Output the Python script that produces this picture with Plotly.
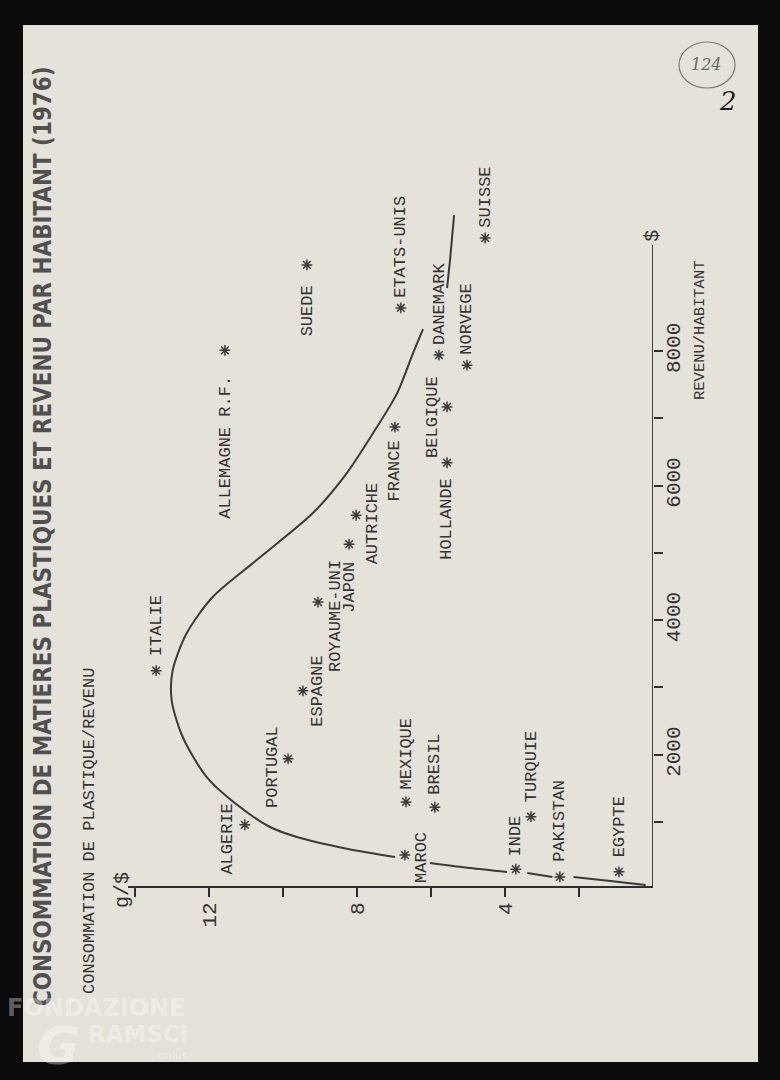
import plotly.graph_objects as go

# ---------------- data ----------------
countries = ["ITALIE", "ALGERIE", "PORTUGAL", "ESPAGNE", "ROYAUME-UNI", "JAPON",
             "AUTRICHE", "ALLEMAGNE R.F.", "SUEDE", "FRANCE", "BELGIQUE", "HOLLANDE",
             "ETATS-UNIS", "DANEMARK", "NORVEGE", "SUISSE", "MEXIQUE", "BRESIL",
             "MAROC", "INDE", "TURQUIE", "PAKISTAN", "EGYPTE"]
conso_g_per_dollar = [13.44, 11.04, 9.87, 9.47, 9.06, 8.22,
                      8.03, 11.58, 9.36, 6.98, 5.57, 5.57,
                      6.82, 5.79, 5.03, 4.54, 6.68, 5.90,
                      6.71, 3.71, 3.30, 2.52, 0.92]
revenu_par_hab = [3250, 960, 1940, 2950, 4270, 5130,
                  5560, 8010, 9280, 6870, 7170, 6340,
                  8640, 7940, 7790, 9680, 1300, 1220,
                  510, 300, 1080, 185, 260]

# hand-drawn trend curve (None = pen lifted around an asterisk)
curve_conso = [0.20, 1.15, 2.15, None,
               2.72, 3.40, None,
               3.95, 4.95, 6.03, None,
               6.98, 8.25, 9.63, 10.36, 11.17, 12.07, 12.72, 13.02, 12.99, 12.61,
               11.91, 10.72, 9.20, 8.28, 7.57, 6.92, 6.49, 6.22, None,
               5.57, 5.49, 5.38]
curve_revenu = [64, 123, 183, None,
                183, 243, None,
                258, 317, 391, None,
                480, 600, 778, 927, 1223, 1669, 2264, 2813, 3259, 3809,
                4344, 4894, 5592, 6187, 6781, 7375, 7970, 8327, None,
                8936, 9352, 10021]

x_tickvals = [14, 12, 10, 8, 6, 4, 2]
x_ticktext = ["", "12", "", "8", "", "4", ""]
y_tickvals = [1000, 2000, 3000, 4000, 5000, 6000, 7000, 8000]
y_ticktext = ["", "2000", "", "4000", "", "6000", "", "8000"]
REV_AXIS_MAX = 9580

# label placement (style): mode, xshift, gap/yshift
label_place = {
    "ITALIE": ("up", 0, 12), "ALGERIE": ("side", -17, -14), "PORTUGAL": ("side", -15, -8),
    "ESPAGNE": ("side", 15, 0), "ROYAUME-UNI": ("side", 17, -14), "JAPON": ("down", 1, 16),
    "AUTRICHE": ("side", 16, -8), "ALLEMAGNE R.F.": ("down", 1, 23), "SUEDE": ("down", 0, 18),
    "FRANCE": ("down", 0, 11), "BELGIQUE": ("side", -14, -10), "HOLLANDE": ("down", 0, 13),
    "ETATS-UNIS": ("up", 0, 8), "DANEMARK": ("up", 0, 8), "NORVEGE": ("up", 0, 8),
    "SUISSE": ("up", 0, 8), "MEXIQUE": ("up", 0, 10), "BRESIL": ("up", 0, 11),
    "MAROC": ("side", 16, -2), "INDE": ("up", 0, 11), "TURQUIE": ("up", 0, 13),
    "PAKISTAN": ("up", 0, 13), "EGYPTE": ("up", 0, 13),
}

# ---------------- style ----------------
W, H = 780, 1080
ML, MR, MT, MB = 128, 127, 203, 194
PAPER = "#e4e2d9"
INK = "#333333"
MONO = "Liberation Mono, DejaVu Sans Mono, monospace"


def pp(px, py):
    """page pixel -> paper coords"""
    return (px - ML) / (W - ML - MR), (H - MB - py) / (H - MT - MB)


fig = go.Figure()

fig.add_trace(go.Scatter(
    x=curve_conso, y=curve_revenu, mode="lines",
    line=dict(color="#3a3a3a", width=2, shape="spline", smoothing=0.8),
    connectgaps=False, hoverinfo="skip"))

fig.add_trace(go.Scatter(
    x=conso_g_per_dollar, y=revenu_par_hab, mode="markers", text=countries,
    marker=dict(symbol="asterisk-open", size=9, color="#3c3c3c",
                line=dict(color="#3c3c3c", width=1.5)),
    cliponaxis=False))

annotations = []
for c, gx, ry in zip(countries, conso_g_per_dollar, revenu_par_hab):
    mode, xs, v = label_place[c]
    a = dict(x=gx, y=ry, xref="x", yref="y", text=c, showarrow=False, textangle=-90,
             font=dict(family=MONO, size=17, color=INK), xshift=xs)
    if mode == "up":
        a.update(xanchor="center", yanchor="bottom", yshift=v)
    elif mode == "down":
        a.update(xanchor="center", yanchor="top", yshift=-v)
    else:
        a.update(xanchor="center", yanchor="middle", yshift=v)
    annotations.append(a)


def page_text(px, py, text, size, family=MONO, color=INK, angle=-90, **kw):
    x, y = pp(px, py)
    d = dict(x=x, y=y, xref="paper", yref="paper", text=text, showarrow=False,
             textangle=angle, font=dict(family=family, size=size, color=color),
             xanchor="center", yanchor="middle")
    d.update(kw)
    annotations.append(d)


# titles & axis labels
page_text(43, 536, "<b>CONSOMMATION DE MATIERES PLASTIQUES ET REVENU PAR HABITANT (1976)</b>", 23.9,
          family="DejaVu Sans Condensed, DejaVu Sans, sans-serif", color="#505050")
page_text(89, 831, "CONSOMMATION DE PLASTIQUE/REVENU", 17)
page_text(122, 890, "g/$", 20)
page_text(700, 330, "REVENU/HABITANT", 15.5)
annotations.append(dict(x=0, y=REV_AXIS_MAX, xref="x", yref="y", text="$", showarrow=False,
                        textangle=-90, font=dict(family=MONO, size=20, color=INK),
                        xanchor="center", yanchor="bottom", yshift=1))

# handwritten archive marks
page_text(706, 64, "<i>124</i>", 16, family="DejaVu Serif, serif", color="#6b6b6b", angle=0)
page_text(728, 101, "<i>2</i>", 26, family="DejaVu Serif, serif", color="#1e1e1e", angle=0)

# watermark
WM = "rgba(255,255,255,0.36)"
WMF = "DejaVu Sans, sans-serif"
page_text(96, 1008, "<b>FONDAZIONE</b>", 24, family=WMF, color=WM, angle=0)
page_text(138, 1034, "<b>RAMSCI</b>", 23, family=WMF, color=WM, angle=0)
page_text(58, 1046, "<b><i>G</i></b>", 52, family=WMF, color=WM, angle=0)
page_text(173, 1055, "onlus", 11, family=WMF, color=WM, angle=0)

shapes = []
x0, y0 = pp(23, 1062)
x1, y1 = pp(758, 25)
shapes.append(dict(type="rect", xref="paper", yref="paper", x0=x0, y0=y0, x1=x1, y1=y1,
                   fillcolor=PAPER, line=dict(width=0), layer="below"))
# revenue axis line
shapes.append(dict(type="line", xref="x", yref="y", x0=0, x1=0, y0=50, y1=REV_AXIS_MAX,
                   line=dict(color="#2e2e2e", width=1.8)))
# circled archive number
cx0, cy0 = pp(679, 88)
cx1, cy1 = pp(735, 42)
shapes.append(dict(type="circle", xref="paper", yref="paper", x0=cx0, y0=cy0, x1=cx1, y1=cy1,
                   line=dict(color="#7a7a7a", width=1.2)))

fig.update_layout(
    width=W, height=H, margin=dict(l=ML, r=MR, t=MT, b=MB),
    paper_bgcolor="#0b0b0b", plot_bgcolor="rgba(0,0,0,0)", showlegend=False,
    annotations=annotations, shapes=shapes,
    xaxis=dict(range=[14.2, 0], showgrid=False, zeroline=False, showline=True,
               linecolor="#2e2e2e", linewidth=1.8, ticks="outside", ticklen=9,
               tickwidth=1.5, tickcolor="#2e2e2e", tickvals=x_tickvals, ticktext=x_ticktext,
               tickangle=-90, ticklabelstandoff=-3,
               tickfont=dict(family=MONO, size=21, color=INK)),
    yaxis=dict(range=[50, 10200], side="right", showgrid=False, zeroline=False, showline=False,
               ticks="outside", ticklen=9, tickwidth=1.5, tickcolor="#2e2e2e",
               tickvals=y_tickvals, ticktext=y_ticktext, tickangle=-90, ticklabelstandoff=-8,
               tickfont=dict(family=MONO, size=21, color=INK)),
)

fig.write_html("out.html", config={"displayModeBar": False},
               post_script="document.body.style.margin='0px';")
